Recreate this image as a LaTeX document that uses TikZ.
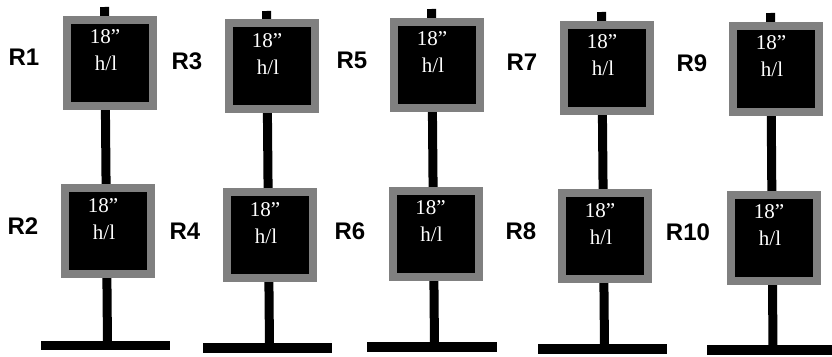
\documentclass[tikz,border=0pt]{standalone}
\usepackage{fontspec}
\setmainfont{Liberation Serif}
\newfontfamily\lblfont{Liberation Sans}
\usetikzlibrary{shadows}
\definecolor{frame}{RGB}{128,128,128}
\tikzset{
  signbox/.style={draw=frame, line width=8pt, fill=black, minimum width=86pt, minimum height=86pt, inner sep=0pt,
    drop shadow={opacity=0.25, shadow xshift=2pt, shadow yshift=-2pt}},
  signtxt/.style={text=white, font=\fontsize{21}{21}\selectfont, inner sep=0pt},
  rlabel/.style={font=\lblfont\bfseries\fontsize{24}{24}\selectfont, inner sep=0pt},
  pole/.style={line width=9pt, black},
  base/.style={line width=9.5pt, black},
}
\begin{document}
\begin{tikzpicture}[x=1pt, y=-1pt]
\useasboundingbox (0,0) rectangle (832,356);
% poles and bases
\foreach \n/\tx/\ty/\bx/\by/\la/\lb in {
  1/104.5/7/107.5/345.5/41/170,
  2/266.5/11/269.5/348/203/332,
  3/431.5/9/434.5/347/367/497,
  4/601.5/12/604.5/349/538/667,
  5/770.5/13/773/350/707/836}{
  \coordinate (pt\n) at (\tx,\ty);
  \coordinate (pb\n) at (\bx,\by);
  \coordinate (bl\n) at (\la,\by);
  \coordinate (br\n) at (\lb,\by);
  \draw[pole] (pt\n) -- (pb\n);
  \draw[base] (bl\n) -- (br\n);
}
% sign boxes
\foreach \n/\cx/\cy in {
  1/110/62.5, 2/108/231,
  3/272/66, 4/270/235,
  5/437/64.5, 6/435.5/233.5,
  7/607/67.5, 8/605/236,
  9/776/68.5, 10/774/237.5}{
  \node[signbox] (b\n) at (\cx,\cy) {};
  \node[signtxt] (t\n) at ([xshift=-5pt, yshift=25.5pt]b\n.center) {18”};
  \node[signtxt] (h\n) at ([xshift=-4pt, yshift=-1pt]b\n.center) {h/l};
}
% row labels
\node[rlabel] (R1) at (24,57.5) {R1};
\node[rlabel] (R2) at (23,226) {R2};
\node[rlabel] (R3) at (187,61) {R3};
\node[rlabel] (R4) at (185,231) {R4};
\node[rlabel] (R5) at (352,60) {R5};
\node[rlabel] (R6) at (350,231) {R6};
\node[rlabel] (R7) at (522,62) {R7};
\node[rlabel] (R8) at (521,231) {R8};
\node[rlabel] (R9) at (692,63) {R9};
\node[rlabel] (R10) at (688,232) {R10};
\end{tikzpicture}
\end{document}
